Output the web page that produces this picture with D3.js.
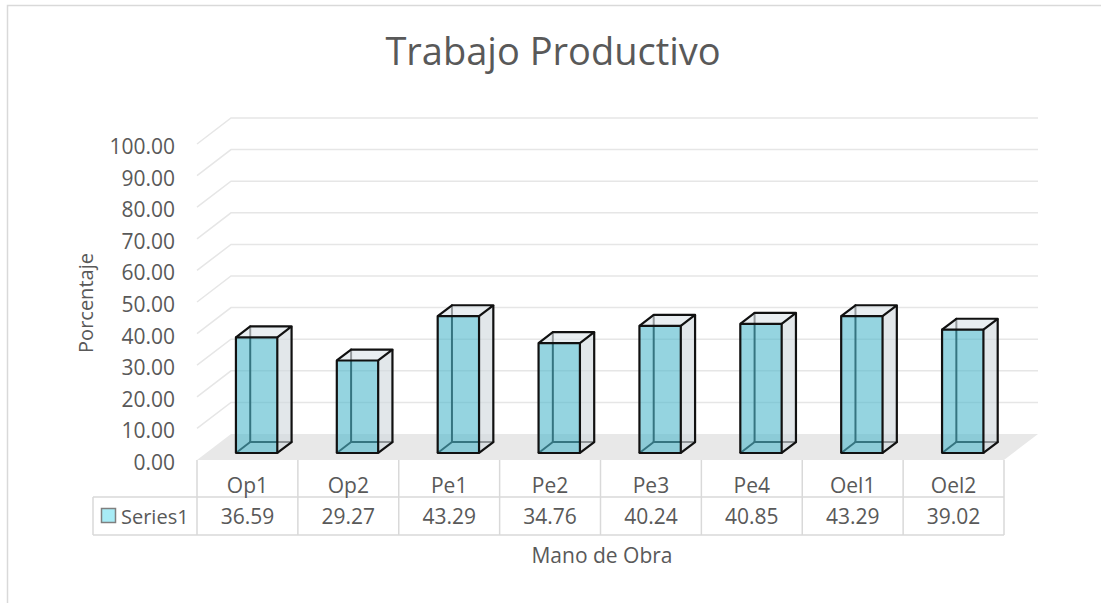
<!DOCTYPE html>
<html>
<head>
<meta charset="utf-8">
<script src="https://cdn.jsdelivr.net/npm/d3@7"></script>
<style>
body { margin: 0; background: #fff; }
text { font-family: "Open Sans", sans-serif; fill: #595959; }
</style>
</head>
<body>
<script>
const categorias = ["Op1", "Op2", "Pe1", "Pe2", "Pe3", "Pe4", "Oel1", "Oel2"];
const valores = [36.59, 29.27, 43.29, 34.76, 40.24, 40.85, 43.29, 39.02];
const ticks = [0, 10, 20, 30, 40, 50, 60, 70, 80, 90, 100];
const serie = "Series1";

const svg = d3.select("body").append("svg")
  .attr("width", 1101)
  .attr("height", 603);

// borde del grafico
svg.append("rect")
  .attr("x", 7.5).attr("y", 5.5)
  .attr("width", 1200).attr("height", 700)
  .attr("fill", "none").attr("stroke", "#d9d9d9").attr("stroke-width", 1.5);

svg.append("text")
  .attr("x", 553).attr("y", 65)
  .attr("text-anchor", "middle")
  .style("font-size", "38px")
  .text("Trabajo Productivo");

const x0 = 197, x1 = 1004, piso = 460;
const prof = { dx: 34, dy: -26 };

const escalaX = d3.scaleBand().domain(categorias).range([x0, x1]);
const escalaY = d3.scaleLinear().domain([0, 100]).range([0, 316]);

// punto en el piso (z de 0 a 1 en profundidad)
function proy(x, z, v) {
  return [x + prof.dx * z, piso + prof.dy * z - escalaY(v)];
}

// piso
const esq = [proy(x0, 0, 0), proy(x1, 0, 0), proy(x1, 1, 0), proy(x0, 1, 0)];
svg.append("polygon")
  .attr("points", esq.map(p => p.join(",")).join(" "))
  .attr("fill", "#e8e8e8");

// lineas de la grilla
ticks.filter(t => t > 0).forEach(t => {
  const a = proy(x0, 0, t), b = proy(x0, 1, t), c = proy(x1, 1, t);
  svg.append("polyline")
    .attr("points", [a, b, c].map(p => p.join(",")).join(" "))
    .attr("fill", "none").attr("stroke", "#e6e6e6").attr("stroke-width", 1.5);
});

svg.selectAll(".tick").data(ticks).enter().append("text")
  .attr("x", 175)
  .attr("y", d => proy(x0, 0, d)[1] + 2)
  .attr("text-anchor", "end")
  .attr("dominant-baseline", "central")
  .style("font-size", "21px")
  .text(d => d.toFixed(2));

svg.append("text")
  .attr("transform", "translate(93,303) rotate(-90)")
  .attr("text-anchor", "middle")
  .style("font-size", "20px")
  .text("Porcentaje");

// barras
const zF = 0.27, zB = 0.69;
const linea = (p, q, color, w) => svg.append("line")
  .attr("x1", p[0]).attr("y1", p[1]).attr("x2", q[0]).attr("y2", q[1])
  .attr("stroke", color).attr("stroke-width", w).attr("stroke-linecap", "round");
const poli = (pts, fill, op) => svg.append("polygon")
  .attr("points", pts.map(p => p.join(",")).join(" "))
  .attr("fill", fill).attr("fill-opacity", op);

categorias.forEach((c, i) => {
  const bw = escalaX.bandwidth() * 0.41;
  const xl = escalaX(c) + (escalaX.bandwidth() - bw) / 2;
  const xr = xl + bw;
  const v = valores[i];
  const Fbl = proy(xl, zF, 0), Fbr = proy(xr, zF, 0), Ftl = proy(xl, zF, v), Ftr = proy(xr, zF, v);
  const Bbl = proy(xl, zB, 0), Bbr = proy(xr, zB, 0), Btl = proy(xl, zB, v), Btr = proy(xr, zB, v);

  // aristas ocultas
  linea(Bbl, Btl, "#111", 2);
  linea(Bbl, Bbr, "#111", 2);
  linea(Fbl, Bbl, "#111", 2);

  poli([Fbr, Bbr, Btr, Ftr], "#d3dadf", 0.65);
  poli([Ftl, Ftr, Btr, Btl], "#dde5ea", 0.65);
  poli([Fbl, Fbr, Ftr, Ftl], "#4eb7cb", 0.6);

  svg.append("polyline")
    .attr("points", [Fbl, Fbr, Ftr, Ftl, Fbl].map(p => p.join(",")).join(" "))
    .attr("fill", "none").attr("stroke", "#111").attr("stroke-width", 2.2).attr("stroke-linejoin", "round");
  svg.append("polyline")
    .attr("points", [Ftl, Btl, Btr, Ftr].map(p => p.join(",")).join(" "))
    .attr("fill", "none").attr("stroke", "#111").attr("stroke-width", 2.2).attr("stroke-linejoin", "round");
  svg.append("polyline")
    .attr("points", [Btr, Bbr, Fbr].map(p => p.join(",")).join(" "))
    .attr("fill", "none").attr("stroke", "#111").attr("stroke-width", 2.2).attr("stroke-linejoin", "round");
});

// tabla de datos
const fila1 = 497, fila2 = 535, ley = 93;
const gris = "#d9d9d9";
const borde = (a, b, c, d) => svg.append("line")
  .attr("x1", a).attr("y1", b).attr("x2", c).attr("y2", d)
  .attr("stroke", gris).attr("stroke-width", 1.5);

borde(ley, fila1, x1, fila1);
borde(ley, fila2, x1, fila2);
borde(ley, fila1, ley, fila2);
categorias.forEach(c => borde(escalaX(c), piso, escalaX(c), fila2));
borde(x1, piso, x1, fila2);

svg.selectAll(".cat").data(categorias).enter().append("text")
  .attr("x", d => escalaX(d) + escalaX.bandwidth() / 2)
  .attr("y", 485)
  .attr("text-anchor", "middle")
  .attr("dominant-baseline", "central")
  .style("font-size", "21px")
  .text(d => d);

svg.selectAll(".val").data(valores).enter().append("text")
  .attr("x", (d, i) => escalaX(categorias[i]) + escalaX.bandwidth() / 2)
  .attr("y", 516)
  .attr("text-anchor", "middle")
  .attr("dominant-baseline", "central")
  .style("font-size", "21px")
  .text(d => d.toFixed(2));

svg.append("rect")
  .attr("x", 101.5).attr("y", 508.5).attr("width", 14).attr("height", 14)
  .attr("fill", "#a8ecf6").attr("stroke", "#7f7f7f").attr("stroke-width", 1.5);
svg.append("text")
  .attr("x", 121).attr("y", 516)
  .attr("dominant-baseline", "central")
  .style("font-size", "20px")
  .text(serie);

svg.append("text")
  .attr("x", 602).attr("y", 563)
  .attr("text-anchor", "middle")
  .style("font-size", "21px")
  .text("Mano de Obra");
</script>
</body>
</html>
